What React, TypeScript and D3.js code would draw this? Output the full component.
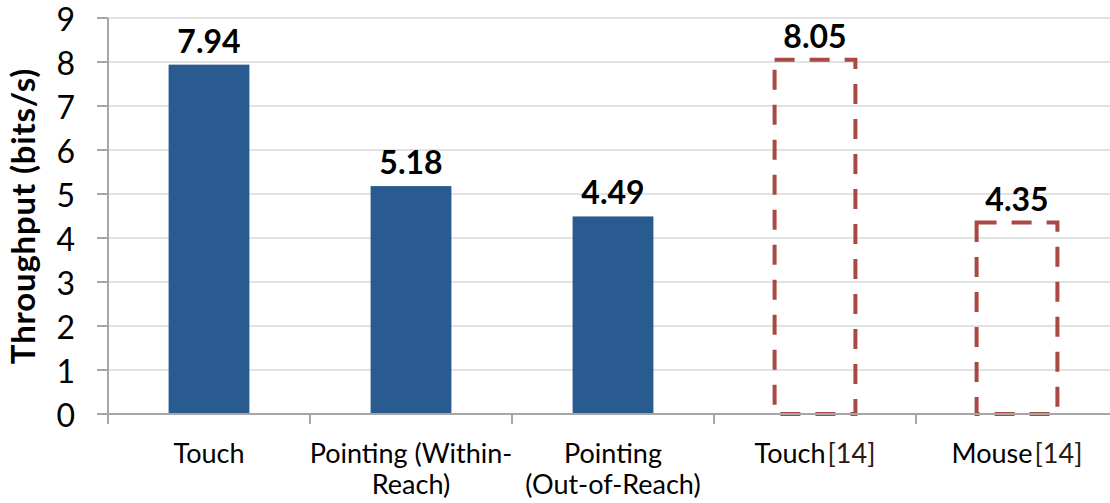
import React from "react";
import * as d3 from "d3";

// Throughput per input technique; the last two are reference values from [14]
const categories = ["Touch", "Pointing (Within-Reach)", "Pointing (Out-of-Reach)", "Touch[14]", "Mouse[14]"];
const labelLines = [["Touch"], ["Pointing (Within-", "Reach)"], ["Pointing", "(Out-of-Reach)"], ["Touch", "[14]"], ["Mouse", "[14]"]];
const throughput = [7.94, 5.18, 4.49, 8.05, 4.35];
const isReference = [false, false, false, true, true];
const yTicks = [0, 1, 2, 3, 4, 5, 6, 7, 8, 9];

const W = 1110;
const H = 503;
const FONT = "Lato, 'Open Sans', sans-serif";

export default function App() {
  const x = d3.scaleBand<string>().domain(categories).range([108, 1118]).paddingInner(0.6).paddingOuter(0.3);
  const y = d3.scaleLinear().domain([0, 9]).range([414, 18]);
  const step = x.step();
  const bandStart = (c: string) => (x(c) as number) - step * x.paddingInner() / 2;

  return (
    <svg width={W} height={H} style={{ position: "absolute", left: 0, top: 0, background: "#fff" }} fontFamily={FONT}>
      {/* gridlines */}
      {yTicks.filter((t) => t > 0).map((t) => (
        <line key={"g" + t} x1={108} x2={W} y1={y(t)} y2={y(t)} stroke="#d9d9d9" strokeWidth={1.6} />
      ))}
      {/* bars */}
      {categories.map((c, i) =>
        isReference[i] ? (
          <rect key={c} x={x(c)} y={y(throughput[i])} width={x.bandwidth()} height={y(0) - y(throughput[i])}
            fill="none" stroke="#a84a43" strokeWidth={4} strokeDasharray="20 15" />
        ) : (
          <rect key={c} x={x(c)} y={y(throughput[i])} width={x.bandwidth()} height={y(0) - y(throughput[i])} fill="#2a5b90" />
        )
      )}
      {/* y axis */}
      <line x1={108} x2={108} y1={y(9)} y2={424} stroke="#a6a6a6" strokeWidth={2} />
      {yTicks.map((t) => (
        <g key={"t" + t}>
          <line x1={97} x2={108} y1={y(t)} y2={y(t)} stroke="#a6a6a6" strokeWidth={2} />
          <text x={75} y={y(t)} dy="0.42em" textAnchor="end" fontSize={32} fill="#000">{t}</text>
        </g>
      ))}
      {/* x axis */}
      <line x1={108} x2={W} y1={y(0)} y2={y(0)} stroke="#a6a6a6" strokeWidth={2} />
      {categories.map((c) => (
        <line key={"xt" + c} x1={bandStart(c)} x2={bandStart(c)} y1={y(0)} y2={424} stroke="#a6a6a6" strokeWidth={2} />
      ))}
      {/* value labels */}
      {categories.map((c, i) => (
        <text key={"v" + c} x={(x(c) as number) + x.bandwidth() / 2} y={y(throughput[i]) - 12} textAnchor="middle"
          fontSize={32} fontWeight="bold" fill="#000">{throughput[i].toFixed(2)}</text>
      ))}
      {/* category labels */}
      {categories.map((c, i) => {
        const cx = (x(c) as number) + x.bandwidth() / 2;
        if (isReference[i]) {
          return (
            <text key={"l" + c} x={cx} y={463} textAnchor="middle" fontSize={27} fill="#000">
              {labelLines[i][0]}<tspan dx={2} fill="#2b1a12">{labelLines[i][1]}</tspan>
            </text>
          );
        }
        return (
          <text key={"l" + c} x={cx} y={463} textAnchor="middle" fontSize={27} fill="#000">
            {labelLines[i].map((ln, k) => (
              <tspan key={k} x={cx} dy={k === 0 ? 0 : 31}>{ln}</tspan>
            ))}
          </text>
        );
      })}
      {/* y axis title */}
      <text transform={`translate(35, ${(y(0) + y(9)) / 2}) rotate(-90)`} textAnchor="middle" fontSize={33}
        letterSpacing={0.8} fontWeight="bold" fill="#000">Throughput (bits/s)</text>
    </svg>
  );
}
